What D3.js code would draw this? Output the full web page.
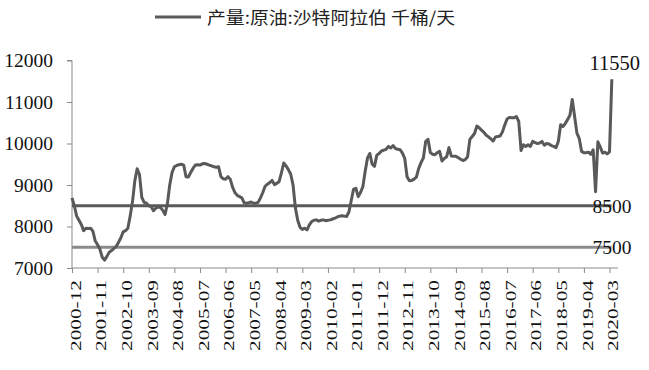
<!DOCTYPE html>
<html><head><meta charset="utf-8">
<script src="https://cdn.jsdelivr.net/npm/d3@7"></script>
<style>body{margin:0;background:#fff}svg{display:block}</style>
</head><body>
<svg id="c" width="649" height="370"></svg>
<script>
const startMonth = "2000-12";
const seriesName = "产量:原油:沙特阿拉伯 千桶/天";
const production = [
8690,8500,8250,8150,8050,7900,7960,7950,7960,7880,
7650,7560,7450,7260,7190,7280,7380,7420,7470,7520,
7620,7730,7870,7900,7960,8250,8600,9100,9390,9250,
8700,8580,8560,8500,8480,8380,8440,8470,8460,8390,
8290,8550,9000,9300,9440,9470,9490,9500,9480,9200,
9190,9300,9400,9480,9490,9480,9510,9520,9500,9480,
9460,9440,9430,9440,9200,9150,9140,9200,9140,8950,
8820,8750,8720,8690,8570,8560,8570,8590,8560,8560,
8580,8690,8820,8970,9020,9060,9110,9010,9040,9080,
9290,9530,9460,9370,9260,9000,8450,8150,7980,7930,
7960,7920,8040,8120,8150,8160,8130,8150,8160,8140,
8150,8160,8180,8200,8230,8250,8260,8250,8240,8350,
8620,8900,8920,8720,8820,8960,9330,9650,9760,9500,
9450,9720,9760,9820,9840,9860,9930,9890,9950,9880,
9860,9850,9770,9640,9200,9100,9110,9140,9190,9400,
9540,9650,10050,10100,9780,9740,9730,9780,9810,9580,
9640,9680,9900,9700,9690,9690,9660,9620,9590,9610,
9680,10100,10170,10240,10420,10380,10320,10270,10200,10160,
10110,10060,10160,10170,10180,10280,10450,10590,10630,10620,
10620,10650,10530,9830,9970,9930,9970,9930,10050,10020,
10000,10010,10050,9960,10000,9990,9950,9930,9900,10050,
10450,10410,10480,10580,10680,11060,10650,10250,10120,9810,
9780,9780,9790,9740,9850,8840,10040,9920,9770,9790,
9750,9800,11550
];
const refLevels = [8500, 7500];
const yTicks = [7000, 8000, 9000, 10000, 11000, 12000];
const tickEvery = 11;

const [sy, sm] = startMonth.split("-").map(Number);
const months = production.map((_, i) => {
  const t = sy * 12 + (sm - 1) + i;
  const y = Math.floor(t / 12), m = t % 12 + 1;
  return y + "-" + String(m).padStart(2, "0");
});
const data = production.map((v, i) => ({i, month: months[i], v}));

const svg = d3.select("#c");
const x = d3.scaleLinear().domain([0, 231]).range([72, 609.5]);
const y = d3.scaleLinear().domain([7000, 12000]).range([268, 60.5]);
const axisColor = "#8a8a8a";
const numFont = "'Liberation Serif','DejaVu Serif',serif";

// y axis
const gy = svg.append("g").attr("transform", "translate(72,0)")
  .call(d3.axisLeft(y).tickValues(yTicks).tickSize(5).tickPadding(14).tickFormat(d3.format("d")));
gy.select(".domain").attr("stroke", axisColor).attr("d", `M-5,${y(12000)}H0V${y(7000)}`);
gy.selectAll(".tick line").attr("stroke", axisColor);
gy.selectAll(".tick text").attr("font-family", numFont).attr("font-size", 19.5).attr("fill", "#111");

// x axis
const tickIdx = d3.range(0, production.length, tickEvery);
const gx = svg.append("g").attr("transform", "translate(0,268)")
  .call(d3.axisBottom(x).tickValues(tickIdx).tickSize(5).tickFormat(i => months[i]));
gx.select(".domain").attr("stroke", axisColor).attr("d", `M72,0H618`);
gx.selectAll(".tick line").attr("stroke", axisColor);
gx.selectAll(".tick text")
  .attr("font-family", numFont).attr("font-size", 15).attr("fill", "#111")
  .attr("text-anchor", "end").attr("transform", "translate(3,12) rotate(-90)")
  .attr("x", 0).attr("y", 0).attr("dy", "0.35em")
  .attr("textLength", 71).attr("lengthAdjust", "spacingAndGlyphs");

// reference lines
const refColors = ["#5a5a5a", "#8a8a8a"];
svg.selectAll(".ref").data(refLevels).join("line").attr("class", "ref")
  .attr("x1", x(0)).attr("x2", x(231) + 2)
  .attr("y1", d => y(d)).attr("y2", d => y(d))
  .attr("stroke", (d, i) => refColors[i]).attr("stroke-width", 3);
svg.selectAll(".reflab").data(refLevels).join("text").attr("class", "reflab")
  .attr("x", 612).attr("y", d => y(d)).attr("dy", "0.35em")
  .attr("text-anchor", "middle").attr("font-family", numFont).attr("font-size", 19.5)
  .attr("fill", "#111").text(d => d);

// main line
svg.append("path").datum(data)
  .attr("fill", "none").attr("stroke", "#595959").attr("stroke-width", 3)
  .attr("stroke-linejoin", "round")
  .attr("d", d3.line().x(d => x(d.i)).y(d => y(d.v)));

// last value label
const last = data[data.length - 1];
svg.append("text").attr("x", x(last.i) + 3).attr("y", y(last.v) - 9)
  .attr("text-anchor", "middle").attr("font-family", numFont).attr("font-size", 20.5)
  .attr("fill", "#111").text(last.v);

// legend
svg.append("line").attr("x1", 155).attr("x2", 201).attr("y1", 17).attr("y2", 17)
  .attr("stroke", "#595959").attr("stroke-width", 3);
svg.append("text").attr("x", 207).attr("y", 24)
  .attr("font-family", "'Noto Sans CJK SC',sans-serif").attr("font-size", 17)
  .attr("fill", "#222").attr("textLength", 248).attr("lengthAdjust", "spacingAndGlyphs")
  .text(seriesName);
</script>
</body></html>
